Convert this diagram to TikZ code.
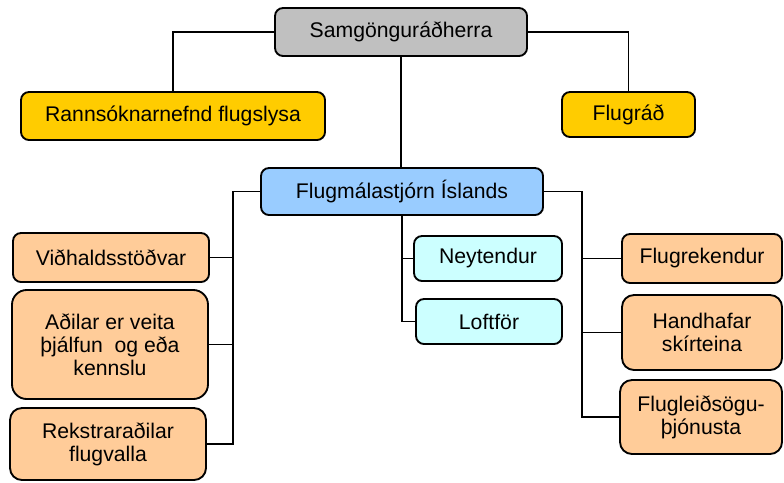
\documentclass[tikz,border=0pt]{standalone}
\usepackage{fontspec}
\setmainfont{Liberation Sans}
\definecolor{cgray}{HTML}{C0C0C0}
\definecolor{cgold}{HTML}{FFCC00}
\definecolor{cblue}{HTML}{99CCFF}
\definecolor{ccyan}{HTML}{CCFFFF}
\definecolor{corange}{HTML}{FFCC99}
\begin{document}
\begin{tikzpicture}[x=0.75pt,y=-0.75pt,
  box/.style={draw=black,line width=1.4pt,rounded corners=6pt,inner sep=0pt,align=center,
    font=\fontsize{15.9}{17.25}\selectfont},
  conn/.style={draw=black,line width=1.1pt}]
\useasboundingbox (0,0) rectangle (784,482);
\node[box,fill=cgray,minimum width=189pt,minimum height=36pt] (samg) at (401,32) {Samgönguráðherra};
\node[box,fill=cgold,minimum width=228pt,minimum height=36pt] (rann) at (173,116) {Rannsóknarnefnd flugslysa};
\node[box,fill=cgold,minimum width=99.75pt,minimum height=33.75pt] (flugrad) at (628.5,114.5) {Flugráð};
\node[box,fill=cblue,minimum width=211.5pt,minimum height=35.25pt] (flugm) at (402,191.5) {Flugmálastjórn Íslands};
\node[box,fill=corange,minimum width=147pt,minimum height=36.75pt] (vid) at (111,257.5) {Viðhaldsstöðvar};
\node[box,fill=corange,rounded corners=11pt,minimum width=147pt,minimum height=81.75pt] (adilar) at (110,344.5) {Aðilar er veita\\þjálfun\ \ og eða\\kennslu};
\node[box,fill=corange,rounded corners=9pt,minimum width=147pt,minimum height=54pt] (rekstr) at (108,444) {Rekstraraðilar\\flugvalla};
\node[box,fill=ccyan,minimum width=111pt,minimum height=33.75pt] (neyt) at (488,258.5) {Neytendur};
\node[box,fill=ccyan,minimum width=109.5pt,minimum height=33.75pt] (loft) at (489,321.5) {Loftför};
\node[box,fill=corange,minimum width=120pt,minimum height=36.75pt] (flugrek) at (702,258.5) {Flugrekendur};
\node[box,fill=corange,rounded corners=9pt,minimum width=120pt,minimum height=56.25pt] (handh) at (702,332.5) {Handhafar\\skírteina};
\node[box,fill=corange,rounded corners=9pt,minimum width=121.5pt,minimum height=55.5pt] (flugleid) at (701,417) {Flugleiðsögu-\\þjónusta};
\coordinate (lbus) at (233,0);
\coordinate (mbus) at (402,0);
\coordinate (rbus) at (582,0);
\begin{scope}[on background layer/.style={}]
\draw[conn] (samg.west) -| (rann.north);
\draw[conn] (samg.east) -| (flugrad.north);
\draw[conn] (samg.south) -- (samg.south |- flugm.north);
\draw[conn] (flugm.west) -- (flugm.west -| lbus) |- (rekstr.east);
\draw[conn] (vid.east) -- (vid.east -| lbus);
\draw[conn] (adilar.east) -- (adilar.east -| lbus);
\draw[conn] (flugm.south -| mbus) |- (loft.west);
\draw[conn] (neyt.west) -- (neyt.west -| mbus);
\draw[conn] (flugm.east) -- (flugm.east -| rbus) |- (flugleid.west);
\draw[conn] (flugrek.west) -- (flugrek.west -| rbus);
\draw[conn] (handh.west) -- (handh.west -| rbus);
\end{scope}
\end{tikzpicture}
\end{document}
